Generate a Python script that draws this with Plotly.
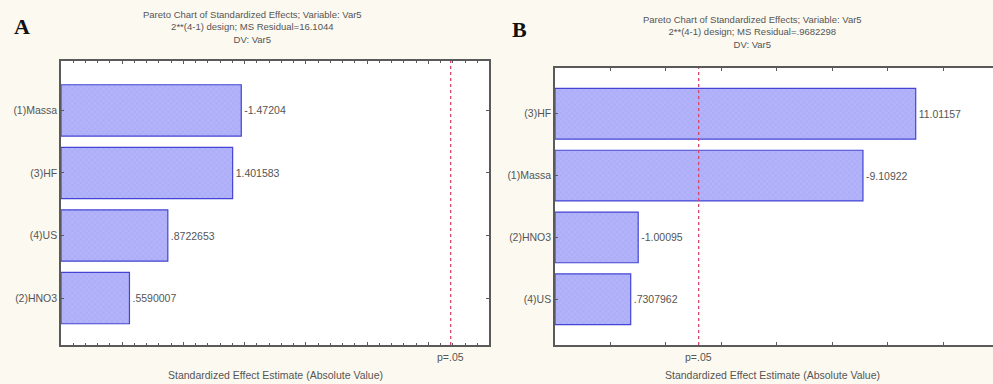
import plotly.graph_objects as go

# ---- data ----
cats_a = ["(1)Massa", "(3)HF", "(4)US", "(2)HNO3"]
effects_a = [-1.47204, 1.401583, 0.8722653, 0.5590007]
labels_a = ["-1.47204", "1.401583", ".8722653", ".5590007"]

cats_b = ["(3)HF", "(1)Massa", "(2)HNO3", "(4)US"]
effects_b = [11.01157, -9.10922, -1.00095, 0.7307962]
labels_b = ["11.01157", "-9.10922", "-1.00095", ".7307962"]

p_crit = 3.182  # t(0.975, df=3)

range_a = [0.0, 3.495]
range_b = [-2.0, 13.8]

title_a = ["Pareto Chart of Standardized Effects; Variable: Var5",
           "2**(4-1) design; MS Residual=16.1044",
           "DV: Var5"]
title_b = ["Pareto Chart of Standardized Effects; Variable: Var5",
           "2**(4-1) design; MS Residual=.9682298",
           "DV: Var5"]
xtitle = "Standardized Effect Estimate (Absolute Value)"

W, H = 993, 384
FONT = "Liberation Sans, Arial, sans-serif"
FS = 10.5
TXT = "#555555"
BAR = "#b3b3fb"
EDGE = "#4444d4"
AX = "#5a5a5a"

def px(x):
    return x / W

def py(y):
    return 1 - y / H

fig = go.Figure()

# bars start at the left edge of each axis (as in STATISTICA Pareto charts)
for vals, lbls, cats, rng, xa, ya in [(effects_a, labels_a, cats_a, range_a, "x", "y"),
                                      (effects_b, labels_b, cats_b, range_b, "x2", "y2")]:
    base = rng[0]
    fig.add_trace(go.Bar(
        x=[abs(v) - base for v in vals], base=base, y=cats, orientation="h",
        xaxis=xa, yaxis=ya, width=0.82,
        marker=dict(color=BAR, line=dict(color=EDGE, width=1.2),
                    pattern=dict(shape="x", fgcolor="#9a9ae6", size=4, solidity=0.25)),
        text=lbls, textposition="outside", cliponaxis=False,
        textfont=dict(family=FONT, size=FS, color=TXT),
        showlegend=False, hoverinfo="skip",
    ))

common_x = dict(showline=True, linecolor=AX, linewidth=1.5, mirror="ticks",
                ticks="inside", ticklen=3, tickcolor=AX, showticklabels=False,
                showgrid=False, zeroline=False, fixedrange=True)
common_y = dict(showline=True, linecolor=AX, linewidth=1.5,
                ticks="inside", ticklen=3, tickcolor=AX, showgrid=False,
                zeroline=False, type="category", fixedrange=True,
                tickfont=dict(family=FONT, size=FS, color=TXT))

fig.update_layout(
    width=W, height=H,
    margin=dict(l=0, r=0, t=0, b=0),
    paper_bgcolor="#fcf9f0", plot_bgcolor="#ffffff",
    xaxis=dict(domain=[px(61), px(489)], range=range_a, anchor="y",
               dtick=0.5, minor=dict(dtick=0.1, ticks="inside", ticklen=2, tickcolor=AX),
               **common_x),
    yaxis=dict(domain=[py(345), py(61)], range=[3.75, -0.79], anchor="x", mirror="ticks",
               categoryarray=cats_a, categoryorder="array", **common_y),
    xaxis2=dict(domain=[px(555), 1.0], range=range_b, anchor="y2",
                dtick=2, **common_x),
    yaxis2=dict(domain=[py(345), py(68)], range=[3.74, -0.74], anchor="x2", mirror=False,
                categoryarray=cats_b, categoryorder="array", **common_y),
)

# critical value lines
for xr, yr in [("x", "y domain"), ("x2", "y2 domain")]:
    fig.add_shape(type="line", xref=xr, yref=yr, x0=p_crit, x1=p_crit, y0=0, y1=1,
                  line=dict(color="#e0436a", width=1.3, dash="dot"))

ann = []
# panel titles (three lines each)
for lines, cx, cy in [(title_a, 252, 27.3), (title_b, 752, 31.5)]:
    ann.append(dict(text="<br>".join(lines), x=px(cx), y=py(cy), xref="paper", yref="paper",
                    showarrow=False, xanchor="center", yanchor="middle", align="center",
                    font=dict(family=FONT, size=9.5, color=TXT)))
# panel letters
ann.append(dict(text="<b>A</b>", x=px(12), y=py(26), xref="paper", yref="paper",
                showarrow=False, xanchor="left", yanchor="middle",
                font=dict(family="Liberation Serif, Times New Roman, serif", size=22, color="#111")))
ann.append(dict(text="<b>B</b>", x=px(510), y=py(29), xref="paper", yref="paper",
                showarrow=False, xanchor="left", yanchor="middle",
                font=dict(family="Liberation Serif, Times New Roman, serif", size=22, color="#111")))
# p=.05 labels
for xr in ["x", "x2"]:
    ann.append(dict(text="p=.05", x=p_crit, xref=xr, y=py(357), yref="paper",
                    showarrow=False, xanchor="center", yanchor="middle",
                    font=dict(family=FONT, size=FS, color=TXT)))
# x-axis titles
ann.append(dict(text=xtitle, x=px(275), y=py(375), xref="paper", yref="paper",
                showarrow=False, xanchor="center", yanchor="middle",
                font=dict(family=FONT, size=FS, color=TXT)))
ann.append(dict(text=xtitle, x=px(772), y=py(375), xref="paper", yref="paper",
                showarrow=False, xanchor="center", yanchor="middle",
                font=dict(family=FONT, size=FS, color=TXT)))
fig.update_layout(annotations=ann)

fig.write_html("out.html", config={"displayModeBar": False},
               post_script="document.body.style.margin='0';")
